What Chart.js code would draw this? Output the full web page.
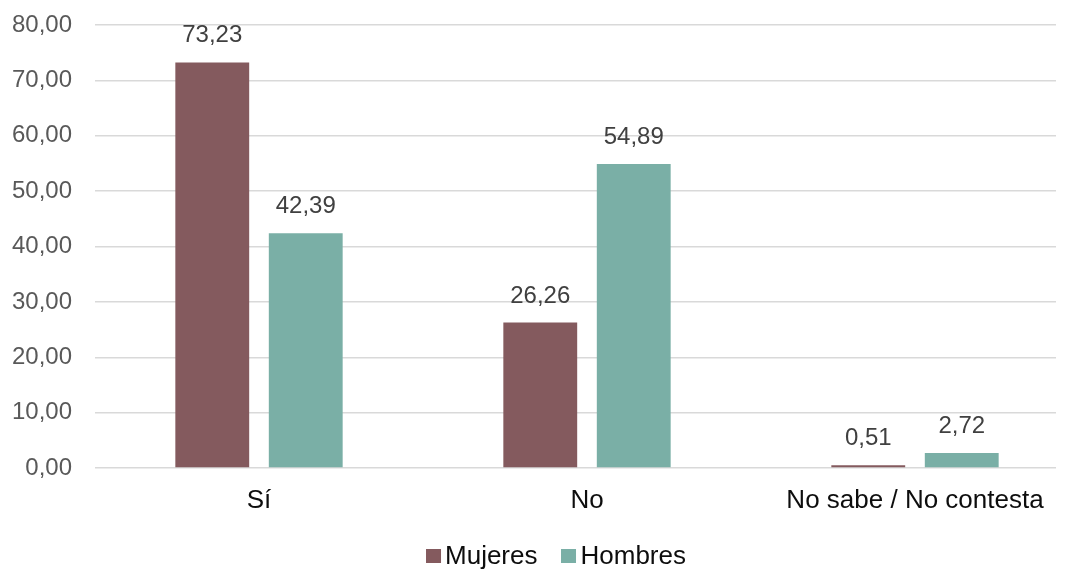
<!DOCTYPE html>
<html>
<head>
<meta charset="utf-8">
<script src="https://cdn.jsdelivr.net/npm/chart.js@4"></script>
<style>
  html, body { margin: 0; padding: 0; background: #fff; overflow: hidden; }
  #wrap { width: 1079px; height: 569px; position: relative; }
  #legend {
    position: absolute; left: 556px; top: 540px; transform: translateX(-50%);
    display: flex; gap: 24px; white-space: nowrap;
    font: 26px 'Liberation Sans', Arial, sans-serif; color: #0D0D0D; line-height: 30px;
  }
  #legend span.item { display: flex; align-items: center; }
  #legend i { display: inline-block; width: 15px; height: 14px; margin-right: 4px; margin-top: 2px; }
</style>
</head>
<body>
<div id="wrap"><canvas id="chart"></canvas><div id="legend"></div></div>
<script>
// ---- data ----
const categories = ["Sí", "No", "No sabe / No contesta"];
const mujeres = [73.23, 26.26, 0.51];
const hombres = [42.39, 54.89, 2.72];
const seriesNames = ["Mujeres", "Hombres"];

const C = {
  mujeres: "#845A5E",
  hombres: "#7AAFA6",
  grid: "#D9D9D9",
  tick: "#595959",
  label: "#404040",
  ink: "#0D0D0D",
};

Chart.defaults.font.family = "'Liberation Sans', Arial, sans-serif";
Chart.defaults.font.size = 24;

const fmt = (v) => v.toFixed(2).replace(".", ",");

// value labels above each bar
const valueLabels = {
  id: "valueLabels",
  afterDatasetsDraw(chart) {
    const ctx = chart.ctx;
    ctx.save();
    ctx.font = "24px 'Liberation Sans', Arial, sans-serif";
    ctx.fillStyle = C.label;
    ctx.textAlign = "center";
    ctx.textBaseline = "alphabetic";
    chart.data.datasets.forEach((ds, i) => {
      chart.getDatasetMeta(i).data.forEach((bar, j) => {
        ctx.fillText(fmt(ds.data[j]), bar.x, bar.y - 20);
      });
    });
    ctx.restore();
  },
  // gridlines stop short of the right edge in the original
  afterDraw(chart) {
    const ctx = chart.ctx;
    ctx.save();
    ctx.fillStyle = "#fff";
    ctx.fillRect(1056, 0, chart.width - 1056, chart.chartArea.bottom + 2);
    ctx.restore();
  },
};

const chart = new Chart(document.getElementById("chart"), {
  type: "bar",
  data: {
    labels: categories,
    datasets: [
      { label: seriesNames[0], data: mujeres, backgroundColor: C.mujeres },
      { label: seriesNames[1], data: hombres, backgroundColor: C.hombres },
    ],
  },
  options: {
    responsive: true, maintainAspectRatio: false, animation: false,
    layout: { padding: { top: 25, right: 0, left: 0, bottom: 0 } },
    datasets: { bar: { categoryPercentage: 0.57, barPercentage: 0.79 } },
    scales: {
      x: {
        grid: { display: false },
        border: { display: false },
        ticks: { color: C.ink, font: { size: 26 }, padding: 9, maxRotation: 0 },
        afterFit: (s) => { s.height = 101; },
      },
      y: {
        min: 0, max: 80,
        grid: { color: C.grid, lineWidth: 1.5, tickLength: 23, tickColor: "transparent" },
        border: { display: false },
        ticks: { stepSize: 10, color: C.tick, font: { size: 24 }, padding: 0, callback: (v) => fmt(v) },
        afterFit: (s) => { s.width = 95; },
      },
    },
    plugins: {
      legend: { display: false },
      tooltip: { enabled: false },
    },
  },
  plugins: [valueLabels],
});

// legend built from the datasets
document.getElementById("legend").innerHTML = chart.data.datasets
  .map((ds) => `<span class="item"><i style="background:${ds.backgroundColor}"></i>${ds.label}</span>`)
  .join("");
</script>
</body>
</html>
